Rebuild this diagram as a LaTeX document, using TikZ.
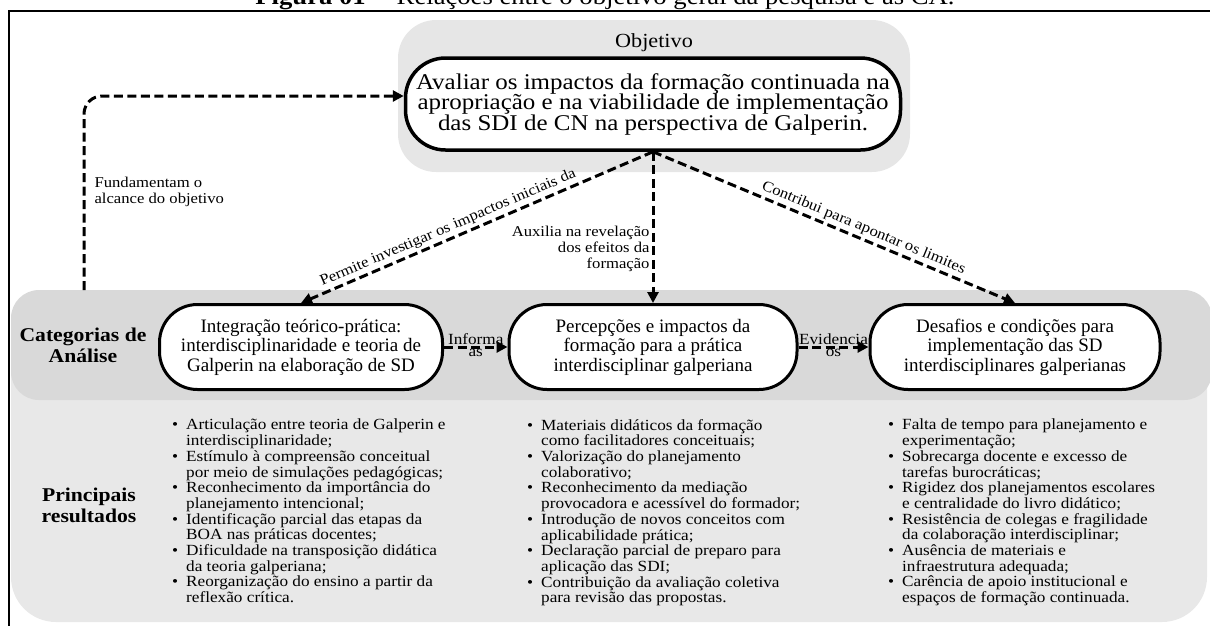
\documentclass[tikz,border=0pt]{standalone}
\usepackage{fontspec}
\setmainfont{Liberation Serif}
\newfontfamily\widefont[FakeStretch=1.11]{Liberation Serif}
\usetikzlibrary{arrows.meta}
\definecolor{objbg}{HTML}{E6E6E6}
\definecolor{bandbg}{HTML}{D9D9D9}
\definecolor{lowbg}{HTML}{E8E8E8}
\newcommand{\rbul}{\makebox[14pt][l]{\textbullet}}
\newcommand{\rcont}{\hspace*{14pt}}
\tikzset{
  objbox/.style={draw, line width=3.5pt, fill=white, rounded corners=40pt,
    minimum width=495pt, minimum height=92pt, align=center, inner sep=2pt,
    font=\widefont\fontsize{22.5}{20.5}\selectfont},
  catbox/.style={draw, line width=3pt, fill=white, rounded corners=38pt,
    minimum height=85pt, align=center, inner sep=2pt,
    font=\fontsize{19}{19.5}\selectfont},
  conn/.style={line width=3pt, dash pattern=on 9pt off 4.5pt,
    -{Triangle[length=11pt,width=11pt]}},
  lbl/.style={font=\widefont\fontsize{15}{16}\selectfont, text=black},
  lblsm/.style={font=\widefont\fontsize{15.5}{15}\selectfont, text=black, inner sep=0.5pt},
  sidelbl/.style={font=\widefont\bfseries\fontsize{19.5}{21}\selectfont, align=center},
  reslist/.style={anchor=north west, inner sep=0pt, align=left,
    font=\widefont\fontsize{15.5}{15.7}\selectfont},
}
\begin{document}
\begin{tikzpicture}[x=1pt,y=-1pt]
\useasboundingbox (0,0) rectangle (1210,625);
\clip (0,0) rectangle (1210,625);

% title (partly cut off)
\node[anchor=base, font=\widefont\fontsize{24}{24}\selectfont, inner sep=0pt] (title) at (605,4.5)
  {\textbf{Figura 01} -- Relações entre o objetivo geral da pesquisa e as CA.};

% backgrounds
\fill[objbg, rounded corners=38pt] (398,20) rectangle (910,172);
\fill[lowbg, rounded corners=45pt] (11,290) rectangle (1207,622);
\fill[bandbg, rounded corners=28pt] (11,290) rectangle (1212,400);

% objective
\node[font=\widefont\fontsize{20}{22}\selectfont] (objlbl) at (654,43) {Objetivo};
\node[objbox] (obj) at (653,104)
  {Avaliar os impactos da formação continuada na\\apropriação e na viabilidade de implementação\\das SDI de CN na perspectiva de Galperin.};

% categories
\node[sidelbl] (catlbl) at (83,345) {Categorias de\\Análise};
\node[catbox, minimum width=283pt] (c1) at (301,347)
  {Integração teórico-prática:\\interdisciplinaridade e teoria de\\Galperin na elaboração de SD};
\node[catbox, minimum width=288pt] (c2) at (653,347)
  {Percepções e impactos da\\formação para a prática\\interdisciplinar galperiana};
\node[catbox, minimum width=290pt] (c3) at (1015,347)
  {Desafios e condições para\\implementação das SD\\interdisciplinares galperianas};

% results
\node[sidelbl] (reslbl) at (89,505) {Principais\\resultados};
\node[reslist] (r1) at (172,419) {%
\rbul Articulação entre teoria de Galperin e\\
\rcont interdisciplinaridade;\\
\rbul Estímulo à compreensão conceitual\\
\rcont por meio de simulações pedagógicas;\\
\rbul Reconhecimento da importância do\\
\rcont planejamento intencional;\\
\rbul Identificação parcial das etapas da\\
\rcont BOA nas práticas docentes;\\
\rbul Dificuldade na transposição didática\\
\rcont da teoria galperiana;\\
\rbul Reorganização do ensino a partir da\\
\rcont reflexão crítica.};
\node[reslist] (r2) at (527,419) {%
\rbul Materiais didáticos da formação\\
\rcont como facilitadores conceituais;\\
\rbul Valorização do planejamento\\
\rcont colaborativo;\\
\rbul Reconhecimento da mediação\\
\rcont provocadora e acessível do formador;\\
\rbul Introdução de novos conceitos com\\
\rcont aplicabilidade prática;\\
\rbul Declaração parcial de preparo para\\
\rcont aplicação das SDI;\\
\rbul Contribuição da avaliação coletiva\\
\rcont para revisão das propostas.};
\node[reslist] (r3) at (888,419) {%
\rbul Falta de tempo para planejamento e\\
\rcont experimentação;\\
\rbul Sobrecarga docente e excesso de\\
\rcont tarefas burocráticas;\\
\rbul Rigidez dos planejamentos escolares\\
\rcont e centralidade do livro didático;\\
\rbul Resistência de colegas e fragilidade\\
\rcont da colaboração interdisciplinar;\\
\rbul Ausência de materiais e\\
\rcont infraestrutura adequada;\\
\rbul Carência de apoio institucional e\\
\rcont espaços de formação continuada.};

% connectors
\draw[conn] (obj.south) -- (c1.north)
  node[lbl, sloped, above, pos=0.57, inner sep=2.5pt] {Permite investigar os impactos iniciais da};
\draw[conn] (obj.south) -- (c2.north)
  node[lbl, left, pos=0.64, align=right, inner sep=2pt] {Auxilia na revelação\\dos efeitos da\\formação};
\draw[conn] (obj.south) -- (c3.north)
  node[lbl, sloped, above, pos=0.57, inner sep=2.5pt] {Contribui para apontar os limites};
\draw[conn] (c1.east) -- (c2.west)
  node[lblsm, midway, above] {Informa} node[lblsm, midway, below] {as};
\draw[conn] (c2.east) -- (c3.west)
  node[lblsm, midway, above] {Evidencia} node[lblsm, midway, below] {os};
\coordinate (fstart) at (84,290);
\draw[conn, rounded corners=18pt] (fstart) |- ([yshift=8pt]obj.west);
\node[lbl, anchor=west, align=left] (fundlbl) at (91,192) {Fundamentam o\\alcance do objetivo};

% frame
\draw[line width=2pt] (9,640) -- (9,11) -- (1220,11);
\end{tikzpicture}
\end{document}
